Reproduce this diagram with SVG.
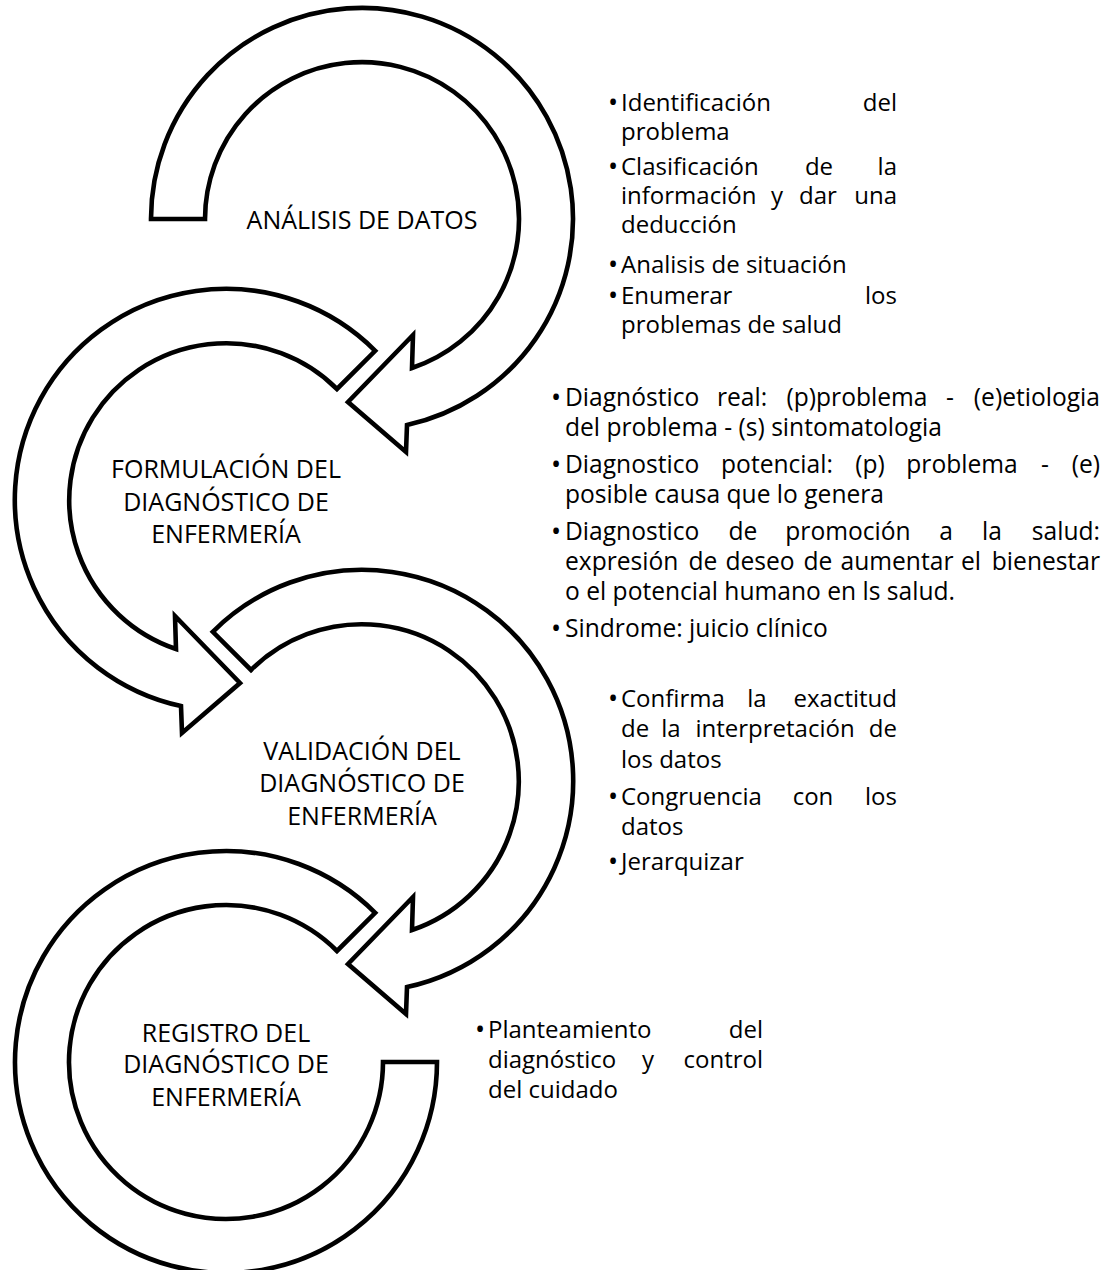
<svg xmlns="http://www.w3.org/2000/svg" width="1117" height="1270" viewBox="0 0 1117 1270">
  <style>
    .arrow { fill: #ffffff; stroke: #000000; stroke-width: 4.6; stroke-linejoin: miter; stroke-miterlimit: 10; }
    .label { font-family: "Open Sans", "Noto Sans", sans-serif; font-size: 25px; fill: #000000; text-anchor: middle; }
    .note { font-family: "Open Sans", "Noto Sans", sans-serif; font-size: 24px; fill: #000000; }
    .wide { font-size: 24.6px; }
    .b { font-size: 27px; }
    .m { text-anchor: middle; }
    .e { text-anchor: end; }
  </style>
  <rect width="1117" height="1270" fill="#ffffff"/>

  <!-- Step 1: circular arrow, tail at the left, head pointing down into step 2 -->
  <g id="node-analisis">
    <path class="arrow" d="M 151,219 A 211 211 0 1 1 407,425 L 406,452 L 348,402 L 413,335 L 412,368 A 157 157 0 1 0 205,219 Z"/>
    <text class="label" x="362" y="229">ANÁLISIS DE DATOS</text>
  </g>

  <!-- Step 2: counter-clockwise arrow -->
  <g id="node-formulacion">
    <path class="arrow" d="M 375.2,350.8 A 211 211 0 1 0 181,706 L 182,733 L 240,683 L 175,616 L 176,649 A 157 157 0 1 1 337,389 Z"/>
    <text class="label" x="226" y="478">FORMULACIÓN DEL</text>
    <text class="label" x="226" y="511">DIAGNÓSTICO DE</text>
    <text class="label" x="226" y="543">ENFERMERÍA</text>
  </g>

  <!-- Step 3: clockwise arrow -->
  <g id="node-validacion">
    <path class="arrow" d="M 212.8,631.8 A 211 211 0 1 1 407,987 L 406,1014 L 348,964 L 413,897 L 412,930 A 157 157 0 1 0 251,670 Z"/>
    <text class="label" x="362" y="760">VALIDACIÓN DEL</text>
    <text class="label" x="362" y="792">DIAGNÓSTICO DE</text>
    <text class="label" x="362" y="825">ENFERMERÍA</text>
  </g>

  <!-- Step 4: open ring without a head -->
  <g id="node-registro">
    <path class="arrow" d="M 375.2,912.8 A 211 211 0 1 0 437,1062 L 383,1062 A 157 157 0 1 1 337,951 Z"/>
    <text class="label" x="226" y="1042">REGISTRO DEL</text>
    <text class="label" x="226" y="1073">DIAGNÓSTICO DE</text>
    <text class="label" x="226" y="1106">ENFERMERÍA</text>
  </g>

  <!-- the arrows themselves carry the flow; no separate connector lines -->
  <g id="connectors"/>

  <!-- Bullet list for step 1 (justified, 621..897) -->
  <g id="notes-analisis" class="note">
    <text class="b" x="608" y="112">•</text>
    <text x="621" y="111">Identificación</text>
    <text class="e" x="897" y="111">del</text>
    <text x="621" y="140">problema</text>
    <text class="b" x="608" y="176">•</text>
    <text x="621" y="175">Clasificación</text>
    <text class="m" x="819" y="175">de</text>
    <text class="e" x="897" y="175">la</text>
    <text x="621" y="204">información</text>
    <text class="m" x="777" y="204">y</text>
    <text class="m" x="818" y="204">dar</text>
    <text class="e" x="897" y="204">una</text>
    <text x="621" y="233">deducción</text>
    <text class="b" x="608" y="274">•</text>
    <text x="621" y="273">Analisis de situación</text>
    <text class="b" x="608" y="305">•</text>
    <text x="621" y="304">Enumerar</text>
    <text class="e" x="897" y="304">los</text>
    <text x="621" y="333">problemas de salud</text>
  </g>

  <!-- Bullet list for step 2 (justified, 565..1100) -->
  <g id="notes-formulacion" class="note wide">
    <text class="b" x="551" y="407">•</text>
    <text x="565" y="406">Diagnóstico</text>
    <text class="m" x="742" y="406">real:</text>
    <text class="m" x="857" y="406">(p)problema</text>
    <text class="m" x="950" y="406">-</text>
    <text class="e" x="1100" y="406">(e)etiologia</text>
    <text x="565" y="436">del problema - (s) sintomatologia</text>
    <text class="b" x="551" y="474">•</text>
    <text x="565" y="473">Diagnostico</text>
    <text class="m" x="777" y="473">potencial:</text>
    <text class="m" x="870" y="473">(p)</text>
    <text class="m" x="962" y="473">problema</text>
    <text class="m" x="1045" y="473">-</text>
    <text class="e" x="1100" y="473">(e)</text>
    <text x="565" y="503">posible causa que lo genera</text>
    <text class="b" x="551" y="541">•</text>
    <text x="565" y="540">Diagnostico</text>
    <text class="m" x="743" y="540">de</text>
    <text class="m" x="848" y="540">promoción</text>
    <text class="m" x="946" y="540">a</text>
    <text class="m" x="992" y="540">la</text>
    <text class="e" x="1100" y="540">salud:</text>
    <text x="565" y="570">expresión</text>
    <text class="m" x="703" y="570">de</text>
    <text class="m" x="760" y="570">deseo</text>
    <text class="m" x="818" y="570">de</text>
    <text class="m" x="897" y="570">aumentar</text>
    <text class="m" x="971" y="570">el</text>
    <text class="e" x="1100" y="570">bienestar</text>
    <text x="565" y="600">o el potencial humano en ls salud.</text>
    <text class="b" x="551" y="638">•</text>
    <text x="565" y="637">Sindrome: juicio clínico</text>
  </g>

  <!-- Bullet list for step 3 (justified, 621..897) -->
  <g id="notes-validacion" class="note">
    <text class="b" x="608" y="708">•</text>
    <text x="621" y="707">Confirma</text>
    <text class="m" x="757" y="707">la</text>
    <text class="e" x="897" y="707">exactitud</text>
    <text x="621" y="737">de</text>
    <text class="m" x="671" y="737">la</text>
    <text class="m" x="775" y="737">interpretación</text>
    <text class="e" x="897" y="737">de</text>
    <text x="621" y="768">los datos</text>
    <text class="b" x="608" y="806">•</text>
    <text x="621" y="805">Congruencia</text>
    <text class="m" x="813" y="805">con</text>
    <text class="e" x="897" y="805">los</text>
    <text x="621" y="835">datos</text>
    <text class="b" x="608" y="871">•</text>
    <text x="621" y="870">Jerarquizar</text>
  </g>

  <!-- Bullet list for step 4 (justified, 488..763) -->
  <g id="notes-registro" class="note">
    <text class="b" x="475" y="1039">•</text>
    <text x="488" y="1038">Planteamiento</text>
    <text class="e" x="763" y="1038">del</text>
    <text x="488" y="1068">diagnóstico</text>
    <text class="m" x="648" y="1068">y</text>
    <text class="e" x="763" y="1068">control</text>
    <text x="488" y="1098">del cuidado</text>
  </g>
</svg>
